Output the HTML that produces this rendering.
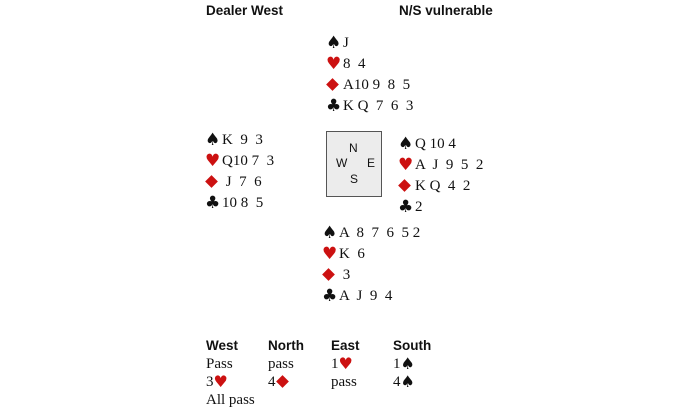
<!DOCTYPE html>
<html><head><style>
body{margin:0;width:700px;height:413px;background:#fff;position:relative;overflow:hidden;font-family:"Liberation Serif",serif;font-size:15px;color:#111}
.a{position:absolute;white-space:pre;line-height:18px}
.h{font-family:"Liberation Sans",sans-serif;font-weight:bold;font-size:13.5px}
.r{color:#cc1111}
.s{display:inline-block;width:17px;font-size:17px;font-family:"DejaVu Sans",sans-serif;line-height:18px;vertical-align:top}
.b{font-size:16px;font-family:"DejaVu Sans",sans-serif;line-height:18px;vertical-align:top}
.d{display:inline-block;width:17px;height:18px;vertical-align:top;position:relative}
.d:before{content:"";position:absolute;left:2px;top:4px;width:9px;height:9px;background:#cc1111;transform:rotate(45deg)}
.box{position:absolute;left:326px;top:131px;width:54px;height:64px;border:1.5px solid #555;background:#ececec;font-family:"Liberation Sans",sans-serif;font-size:12px}
.box span{position:absolute}
</style></head><body>
<div class="a h" style="left:206px;top:2px">Dealer West</div>
<div class="a h" style="left:399px;top:2px">N/S vulnerable</div>

<div class="a" style="left:326px;top:34px"><span class="s">♠</span>J</div>
<div class="a" style="left:326px;top:55px"><span class="s r">♥</span>8  4</div>
<div class="a" style="left:326px;top:76px"><span class="d"></span>A10 9  8  5</div>
<div class="a" style="left:326px;top:97px"><span class="s">♣</span>K Q  7  6  3</div>

<div class="a" style="left:205px;top:131px"><span class="s">♠</span>K  9  3</div>
<div class="a" style="left:205px;top:152px"><span class="s r">♥</span>Q10 7  3</div>
<div class="a" style="left:205px;top:173px"><span class="d"></span> J  7  6</div>
<div class="a" style="left:205px;top:194px"><span class="s">♣</span>10 8  5</div>

<div class="box"><span style="left:22px;top:9px">N</span><span style="left:9px;top:24px">W</span><span style="left:40px;top:24px">E</span><span style="left:23px;top:40px">S</span></div>

<div class="a" style="left:398px;top:135px"><span class="s">♠</span>Q 10 4</div>
<div class="a" style="left:398px;top:156px"><span class="s r">♥</span>A  J  9  5  2</div>
<div class="a" style="left:398px;top:177px"><span class="d"></span>K Q  4  2</div>
<div class="a" style="left:398px;top:198px"><span class="s">♣</span>2</div>

<div class="a" style="left:322px;top:224px"><span class="s">♠</span>A  8  7  6  5 2</div>
<div class="a" style="left:322px;top:245px"><span class="s r">♥</span>K  6</div>
<div class="a" style="left:322px;top:266px"><span class="d"></span> 3</div>
<div class="a" style="left:322px;top:287px"><span class="s">♣</span>A  J  9  4</div>

<div class="a h" style="left:206px;top:337px">West</div>
<div class="a h" style="left:268px;top:337px">North</div>
<div class="a h" style="left:331px;top:337px">East</div>
<div class="a h" style="left:393px;top:337px">South</div>
<div class="a" style="left:206px;top:355px">Pass</div>
<div class="a" style="left:268px;top:355px">pass</div>
<div class="a" style="left:331px;top:355px">1<span class="b r">♥</span></div>
<div class="a" style="left:393px;top:355px">1<span class="b">♠</span></div>
<div class="a" style="left:206px;top:373px">3<span class="b r">♥</span></div>
<div class="a" style="left:268px;top:373px">4<span class="d"></span></div>
<div class="a" style="left:331px;top:373px">pass</div>
<div class="a" style="left:393px;top:373px">4<span class="b">♠</span></div>
<div class="a" style="left:206px;top:391px">All pass</div>
</body></html>
